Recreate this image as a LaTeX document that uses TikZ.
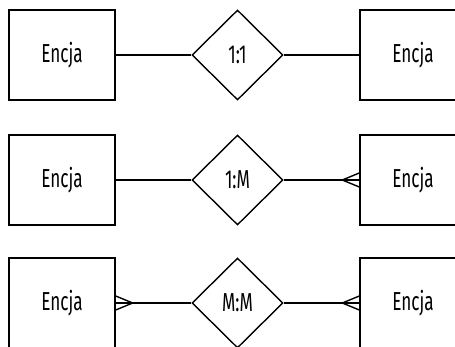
\documentclass[tikz,border=0pt]{standalone}
\usepackage{fontspec}
\setmainfont[FakeStretch=0.66]{Fira Sans}
\usetikzlibrary{shapes.geometric}
\tikzset{ent/.style={draw, minimum width=53pt, minimum height=45pt, inner sep=0pt},
         rel/.style={draw, diamond, minimum width=45.5pt, minimum height=45pt, inner sep=0pt},
         every node/.style={font=\fontsize{13pt}{15pt}\selectfont}}

\begin{document}
\begin{tikzpicture}[x=0.5pt, y=-0.5pt, line width=0.7pt]
            \clip (0,0) rectangle (455,347);
            \node[ent] (E1) at (62,55) {Encja};
            \node[rel] (R1) at (237.5,55) {1:1};
            \node[ent] (F1) at (413,55) {Encja};

            \node[ent] (E2) at (62,180) {Encja};
            \node[rel] (R2) at (237.5,180) {1:M};
            \node[ent] (F2) at (413,180) {Encja};

            \node[ent] (E3) at (62,303) {Encja};
            \node[rel] (R3) at (237.5,303) {M:M};
            \node[ent] (F3) at (413,303) {Encja};

            \draw(E1)--(R1)--(F1);
            \draw(E2)--(R2)--(F2);
            \draw(E3)--(R3)--(F3);

            % crow's feet
            \draw([yshift=3.5pt]F2.west)--([xshift=-8.5pt]F2.west)--([yshift=-3.5pt]F2.west);
            \draw([yshift=3.5pt]F3.west)--([xshift=-8.5pt]F3.west)--([yshift=-3.5pt]F3.west);
            \draw([yshift=3.5pt]E3.east)--([xshift=8.5pt]E3.east)--([yshift=-3.5pt]E3.east);
    \end{tikzpicture}
\end{document}
